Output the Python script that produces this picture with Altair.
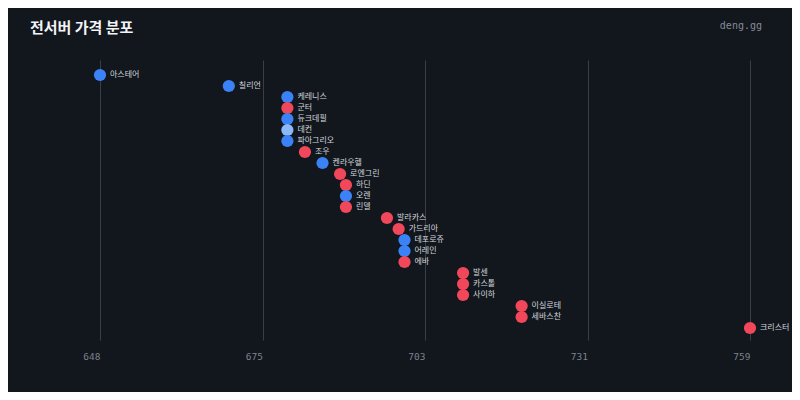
"""전서버 가격 분포 — one dot per server, sorted by price."""

import altair as alt
import pandas as pd

servers = [
    "아스테어", "칠리언", "케레니스", "군터", "듀크데필", "데컨", "파아그리오",
    "조우", "켄라우헬", "로엔그린", "하딘", "오렌", "린델", "발라카스",
    "가드리아", "데포로쥬", "어레인", "에바", "발센", "카스톨", "사이하",
    "이실로테", "세바스찬", "크리스터",
]
prices = [
    648, 670, 680, 680, 680, 680, 680,
    683, 686, 689, 690, 690, 690, 697,
    699, 700, 700, 700, 710, 710, 710,
    720, 720, 759,
]
groups = [
    "blue", "blue", "blue", "red", "blue", "light", "blue",
    "red", "blue", "red", "red", "blue", "red", "red",
    "red", "blue", "blue", "red", "red", "red", "red",
    "red", "red", "red",
]
tick_values = [648, 675.75, 703.5, 731.25, 759]

df = pd.DataFrame({"server": servers, "price": prices, "group": groups})
df["rank"] = range(len(df))  # row order, top to bottom

BG = "#12161d"

x = alt.X(
    "price:Q",
    title=None,
    scale=alt.Scale(domain=[648, 759], nice=False, zero=False),
    axis=alt.Axis(
        values=tick_values,
        labelExpr="floor(datum.value)",
        grid=True,
        gridColor="#3a3f47",
        gridWidth=1,
        domain=False,
        ticks=False,
        labelFont="DejaVu Sans Mono",
        labelFontSize=9.5,
        labelColor="#7c828c",
        labelAlign="right",
        labelPadding=11,
    ),
)
# rows 11px apart, first row 15px below the top of the plot
y = alt.Y(
    "rank:Q",
    title=None,
    scale=alt.Scale(domain=[-15 / 11, 265 / 11], reverse=True, nice=False, zero=False),
    axis=None,
)

base = alt.Chart(df).encode(x=x, y=y)

dots = base.mark_circle(size=150, opacity=1).encode(
    color=alt.Color(
        "group:N",
        scale=alt.Scale(
            domain=["blue", "red", "light"],
            range=["#3b82f6", "#f0475a", "#8ab8f8"],
        ),
        legend=None,
    ),
    tooltip=["server:N", "price:Q"],
)

labels = base.mark_text(
    align="left", baseline="middle", dx=10,
    font="Noto Sans CJK KR", fontSize=8, color="#d2d6dd",
).encode(text="server:N")

# header texts, placed relative to the plot area
head = alt.Chart(df.head(1))
title = head.mark_text(
    text="전서버 가격 분포", align="left", baseline="middle",
    font="Noto Sans CJK KR", fontSize=15, fontWeight="bold", color="#f2f4f7",
).encode(x=alt.value(-70), y=alt.value(-32))
brand = head.mark_text(
    text="deng.gg", align="right", baseline="middle",
    font="DejaVu Sans Mono", fontSize=10, color="#858b95",
).encode(x=alt.value(662), y=alt.value(-34))

chart = (
    alt.layer(dots, labels, title, brand)
    .properties(
        width=650,
        height=280,
        background=BG,
        padding={"left": 92, "top": 52, "right": 42, "bottom": 52},
        autosize=alt.AutoSizeParams(type="none"),
    )
    .configure_view(stroke=None)
)

chart.save("out.html", embed_options={"renderer": "svg", "actions": False})
